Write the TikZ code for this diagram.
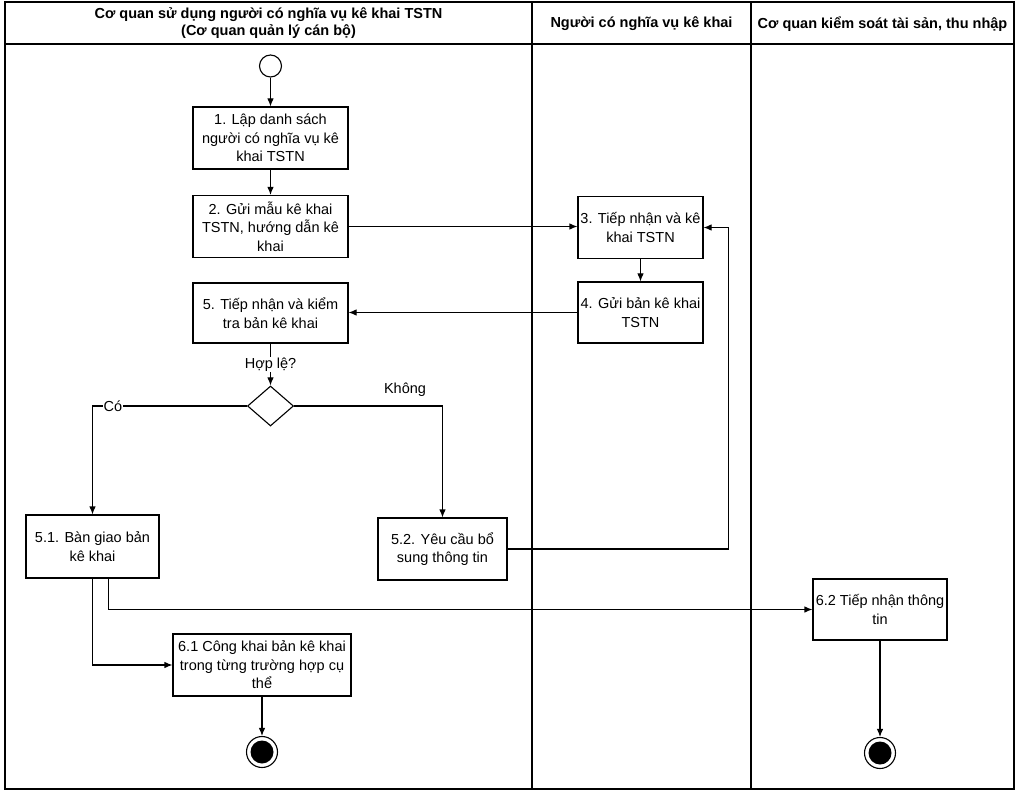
\documentclass[tikz,border=0pt]{standalone}
\usepackage{fontspec}
\setmainfont{Liberation Sans}
\usetikzlibrary{arrows.meta,shapes.geometric}
\begin{document}
\begin{tikzpicture}[x=1pt,y=-1pt,
  box/.style={draw,line width=1.1pt,rectangle,inner sep=0pt,align=center,font=\fontsize{14.5}{18.5}\selectfont},
  conn/.style={line width=1.1pt,-{Latex[length=8pt,width=6.5pt]}},
  plain/.style={line width=1.1pt},
  lane/.style={line width=2pt},
  hdr/.style={font=\fontsize{14.5}{17}\selectfont\bfseries,align=center,inner sep=0pt},
  lbl/.style={font=\fontsize{14.5}{17}\selectfont,inner sep=1pt},
  startnode/.style={circle,draw,line width=1.1pt,minimum size=22pt,inner sep=0pt},
  endnode/.style={circle,draw,line width=1.1pt,minimum size=31pt,inner sep=0pt,
     path picture={\fill (path picture bounding box.center) circle (11.5pt);}}]
\useasboundingbox (0,0) rectangle (1020,794);
% frame and lanes
\draw[lane] (5,2) rectangle (1014,789);
\draw[lane] (5,44) -- (1014,44);
\draw[lane] (532,2) -- (532,789);
\draw[lane] (751,2) -- (751,789);
\node[hdr] (h1) at (268.5,23.5) {Cơ quan sử dụng người có nghĩa vụ kê khai TSTN\\(Cơ quan quản lý cán bộ)};
\node[hdr] (h2) at (641.5,24) {Người có nghĩa vụ kê khai};
\node[hdr] (h3) at (882.5,24) {Cơ quan kiểm soát tài sản, thu nhập};
% nodes
\node[startnode] (s) at (270.5,66) {};
\node[box,minimum width=155pt,minimum height=62pt] (b1) at (270.5,138) {1. Lập danh sách\\người có nghĩa vụ kê\\khai TSTN};
\node[box,minimum width=155pt,minimum height=62pt] (b2) at (270.5,226.5) {2. Gửi mẫu kê khai\\TSTN, hướng dẫn kê\\khai};
\node[box,minimum width=125pt,minimum height=62pt] (b3) at (640.5,227.5) {3. Tiếp nhận và kê\\khai TSTN};
\node[box,minimum width=125pt,minimum height=61pt] (b4) at (640.5,312.5) {4. Gửi bản kê khai\\TSTN};
\node[box,minimum width=155pt,minimum height=60pt] (b5) at (270.5,313) {5. Tiếp nhận và kiểm\\tra bản kê khai};
\node[diamond,draw,line width=1.1pt,minimum width=46pt,minimum height=40pt,inner sep=0pt] (d) at (270.5,406) {};
\node[box,minimum width=133pt,minimum height=63pt] (b51) at (92.5,546.5) {5.1. Bàn giao bản\\kê khai};
\node[box,minimum width=129pt,minimum height=62pt] (b52) at (442.5,549) {5.2. Yêu cầu bổ\\sung thông tin};
\node[box,minimum width=178pt,minimum height=62pt] (b61) at (262,665) {6.1 Công khai bản kê khai\\trong từng trường hợp cụ\\thể};
\node[box,minimum width=134pt,minimum height=61pt] (b62) at (880,609.5) {6.2 Tiếp nhận thông\\tin};
\node[endnode] (e1) at (262,752) {};
\node[endnode] (e2) at (880,753) {};
% connectors
\draw[conn] (s) -- (b1);
\draw[conn] (b1) -- (b2);
\draw[conn] (b2.east) -- (b3.west |- b2.east);
\draw[conn] (b3) -- (b4);
\draw[conn] (b4.west) -- (b5.east |- b4.west);
\draw[conn] (b5) -- node[lbl,fill=white] (lh) {Hợp lệ?} (d);
\draw[conn] (d.west) -| (b51.north);
\node[lbl,fill=white] (lc) at (113,406) {Có};
\draw[conn] (d.east) -| (b52.north);
\node[lbl] (lk) at (405,390) {Không};
\draw[conn] (b52.east) -- ++(221,0) |- (b3.east);
\draw[conn] ([xshift=16pt]b51.south) |- (b62.west);
\draw[conn] (b51.south) |- (b61.west);
\draw[conn] (b61) -- (e1);
\draw[conn] (b62) -- (e2);
\end{tikzpicture}
\end{document}
